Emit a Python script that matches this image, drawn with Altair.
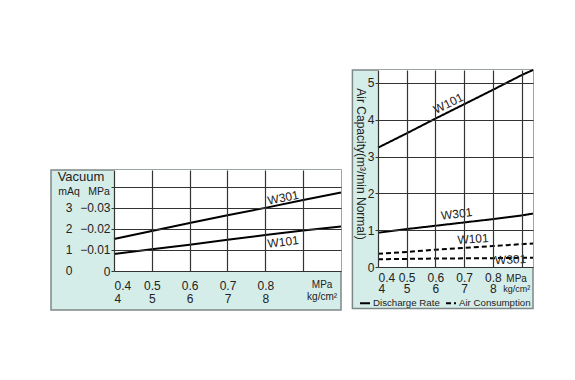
import altair as alt
import pandas as pd

# ---------------- data ----------------
pressure_left = [0.4, 0.5, 0.6, 0.7, 0.8, 0.9, 1.0]
vac_w301 = [1.52, 1.90, 2.28, 2.65, 3.00, 3.37, 3.73]
vac_w101 = [0.81, 1.03, 1.25, 1.48, 1.71, 1.92, 2.11]

pressure_right = [0.4, 0.5, 0.6, 0.7, 0.8, 0.9, 0.94]
dis_w101 = [3.24, 3.63, 4.03, 4.42, 4.81, 5.21, 5.35]
dis_w301 = [0.93, 1.03, 1.12, 1.21, 1.30, 1.40, 1.45]
air_w101 = [0.36, 0.41, 0.47, 0.52, 0.57, 0.62, 0.64]
air_w301 = [0.21, 0.22, 0.23, 0.235, 0.24, 0.25, 0.25]

left_ticks_x = [0.4, 0.5, 0.6, 0.7, 0.8, 0.9]
left_ticks_y = [0, 1, 2, 3, 4]
mAq_labels = ["0", "1", "2", "3"]
right_ticks_x = [0.4, 0.5, 0.6, 0.7, 0.8, 0.9]
right_ticks_y = [0, 1, 2, 3, 4, 5]

left_lab_text = ["W301", "W101"]
left_lab_x = [0.847, 0.847]
left_lab_y = [3.48, 1.38]
left_lab_ang = [348.5, 353]

right_lab_text = ["W101", "W301", "W101", "W301"]
right_lab_x = [0.645, 0.674, 0.731, 0.862]
right_lab_y = [4.44, 1.44, 0.76, 0.20]
right_lab_ang = [333.5, 353, 356, 358]

TEAL = "#d5ede9"
BORDER = "#7d8886"
GRID = "#333333"
TXT = "#222222"
FONT = "Liberation Sans"

# ---------------- left panel ----------------
LW, LH = 227, 101
lx = alt.Scale(domain=[0.4, 1.0], nice=False, zero=False)
ly = alt.Scale(domain=[0, 4.8], nice=False, zero=False)

lx_axis = alt.Axis(
    values=left_ticks_x, grid=True, gridColor=GRID, gridWidth=1.2, zindex=1,
    domain=False, ticks=False, title=None, labelOverlap=False,
    labelExpr="datum.value > 0.85 ? '' : [format(datum.value, '.1f'), '' + round(datum.value*10)]",
    labelFontSize=12, labelLineHeight=13, labelPadding=9, labelColor=TXT, labelFont=FONT)
ly_axis = alt.Axis(
    values=left_ticks_y, grid=True, gridColor=GRID, gridWidth=1.2, zindex=1,
    domain=False, ticks=True, tickSize=3, tickColor=GRID, title=None, labelOverlap=False,
    labelExpr="datum.value == 0 ? '0' : (datum.value == 4 ? '' : '\u22120.0' + datum.value)",
    labelFontSize=12, labelPadding=1, labelColor=TXT, labelFont=FONT)

one = pd.DataFrame({"a": [0]})
left_df = pd.DataFrame({
    "p": pressure_left * 2,
    "v": vac_w301 + vac_w101,
    "s": ["W301"] * 7 + ["W101"] * 7,
})

l_box = alt.Chart(one).mark_rect(fill=TEAL, stroke=BORDER, strokeWidth=1.5).encode(
    x=alt.value(-63), x2=alt.value(LW), y=alt.value(0), y2=alt.value(140))
l_plot = alt.Chart(one).mark_rect(fill="white").encode(
    x=alt.value(0), x2=alt.value(LW), y=alt.value(0), y2=alt.value(LH))

l_lines = alt.Chart(left_df).mark_line(color="black", strokeWidth=2).encode(
    x=alt.X("p:Q", scale=lx, axis=lx_axis),
    y=alt.Y("v:Q", scale=ly, axis=ly_axis),
    detail="s:N",
)

mAq_df = pd.DataFrame({"y": left_ticks_y[:4], "t": mAq_labels})
l_mAq = alt.Chart(mAq_df).mark_text(fontSize=12, font=FONT, color=TXT, align="center", baseline="middle").encode(
    x=alt.value(-45), y=alt.Y("y:Q", scale=ly, axis=ly_axis), text="t:N")

l_head = alt.Chart(pd.DataFrame({"t": ["Vacuum", "mAq", "MPa"], "px": [-33, -45, -15], "py": [7, 21.5, 21.5],
                                 "fs": [13, 10.5, 10.5]})).mark_text(
    font=FONT, color=TXT, align="center", baseline="middle").encode(
    x=alt.X("px:Q", scale=None), y=alt.Y("py:Q", scale=None), text="t:N",
    size=alt.Size("fs:Q", scale=None, legend=None))

l_units = alt.Chart(pd.DataFrame({"t": ["MPa", "kg/cm\u00b2"], "x": [0.95, 0.95], "py": [115, 127]})).mark_text(
    font=FONT, color=TXT, fontSize=10, align="center", baseline="middle").encode(
    x=alt.X("x:Q", scale=lx, axis=lx_axis), y=alt.Y("py:Q", scale=None), text="t:N")

l_labels = alt.Chart(pd.DataFrame({"t": left_lab_text, "x": left_lab_x, "y": left_lab_y, "a": left_lab_ang})).mark_text(
    font=FONT, color=TXT, fontSize=12, align="center", baseline="middle").encode(
    x=alt.X("x:Q", scale=lx, axis=lx_axis), y=alt.Y("y:Q", scale=ly, axis=ly_axis), text="t:N",
    angle=alt.Angle("a:Q", scale=None))

left = alt.layer(l_box, l_plot, l_lines, l_mAq, l_head, l_units, l_labels).properties(width=LW, height=LH)

spacer = alt.Chart(one).mark_point(opacity=0, size=0).encode(
    x=alt.value(0), y=alt.value(0)).properties(width=1, height=1)

# ---------------- right panel ----------------
RW, RH = 155, 197
rx = alt.Scale(domain=[0.4, 0.94], nice=False, zero=False)
ry = alt.Scale(domain=[0, 5.35], nice=False, zero=False)

rx_axis = alt.Axis(
    values=right_ticks_x, grid=True, gridColor=GRID, gridWidth=1.2, zindex=1,
    domain=False, ticks=False, title=None, labelOverlap=False,
    labelExpr="datum.value > 0.85 ? '' : [format(datum.value, '.1f'), '' + round(datum.value*10)]",
    labelFontSize=12, labelLineHeight=10.5, labelPadding=5.5, labelColor=TXT, labelFont=FONT)
ry_axis = alt.Axis(
    values=right_ticks_y, grid=True, gridColor=GRID, gridWidth=1.2, zindex=1,
    domain=False, ticks=True, tickSize=3, tickColor=GRID, title=None, labelOverlap=False,
    labelFontSize=12, labelPadding=1, labelColor=TXT, labelFont=FONT)

right_df = pd.DataFrame({
    "p": pressure_right * 4,
    "v": dis_w101 + dis_w301 + air_w101 + air_w301,
    "s": ["D101"] * 7 + ["D301"] * 7 + ["A101"] * 7 + ["A301"] * 7,
    "k": ["Discharge Rate"] * 14 + ["Air Consumption"] * 14,
})

r_box = alt.Chart(one).mark_rect(fill=TEAL, stroke=BORDER, strokeWidth=1.5).encode(
    x=alt.value(-25.6), x2=alt.value(RW), y=alt.value(0), y2=alt.value(238.4))
r_plot = alt.Chart(one).mark_rect(fill="white").encode(
    x=alt.value(0), x2=alt.value(RW), y=alt.value(0), y2=alt.value(RH))

r_lines = alt.Chart(right_df).mark_line(color="black", strokeWidth=2).encode(
    x=alt.X("p:Q", scale=rx, axis=rx_axis),
    y=alt.Y("v:Q", scale=ry, axis=ry_axis),
    detail="s:N",
    strokeDash=alt.StrokeDash("k:N", scale=alt.Scale(domain=["Discharge Rate", "Air Consumption"],
                                                     range=[[1, 0], [5, 3]]),
                              legend=alt.Legend(orient="none", legendX=-19, legendY=227, direction="horizontal",
                                                title=None, symbolType="stroke", symbolStrokeColor="black",
                                                symbolStrokeWidth=2, symbolSize=100, labelFontSize=9.7,
                                                labelFont=FONT, labelColor=TXT, labelOffset=2,
                                                columnPadding=2, padding=0)),
)

r_title = alt.Chart(pd.DataFrame({"t": ["Air Capacity(m\u00b3/min Normal)"]})).mark_text(
    font=FONT, color=TXT, fontSize=12, angle=90, align="center", baseline="middle").encode(
    x=alt.value(-17), y=alt.value(94), text="t:N")

r_units = alt.Chart(pd.DataFrame({"t": ["MPa", "kg/cm\u00b2"], "x": [0.883, 0.883], "py": [209, 219], "fs": [10, 9]})).mark_text(
    font=FONT, color=TXT, align="center", baseline="middle").encode(
    x=alt.X("x:Q", scale=rx, axis=rx_axis), y=alt.Y("py:Q", scale=None), text="t:N",
    size=alt.Size("fs:Q", scale=None, legend=None))

r_labels = alt.Chart(pd.DataFrame({"t": right_lab_text, "x": right_lab_x, "y": right_lab_y, "a": right_lab_ang})).mark_text(
    font=FONT, color=TXT, fontSize=12, align="center", baseline="middle").encode(
    x=alt.X("x:Q", scale=rx, axis=rx_axis), y=alt.Y("y:Q", scale=ry, axis=ry_axis), text="t:N",
    angle=alt.Angle("a:Q", scale=None))

right = alt.layer(r_box, r_plot, r_lines, r_title, r_units, r_labels).properties(width=RW, height=RH)

chart = alt.hconcat(
    alt.vconcat(spacer, left, spacing=98),
    right,
    spacing=6,
).resolve_legend(strokeDash="independent", size="independent").properties(
    padding={"left": 42, "top": 58, "right": 0, "bottom": 0}
).configure_view(stroke=None).configure_axis(labelFont=FONT)

chart.save("out.html", embed_options={"renderer": "svg", "actions": False})
